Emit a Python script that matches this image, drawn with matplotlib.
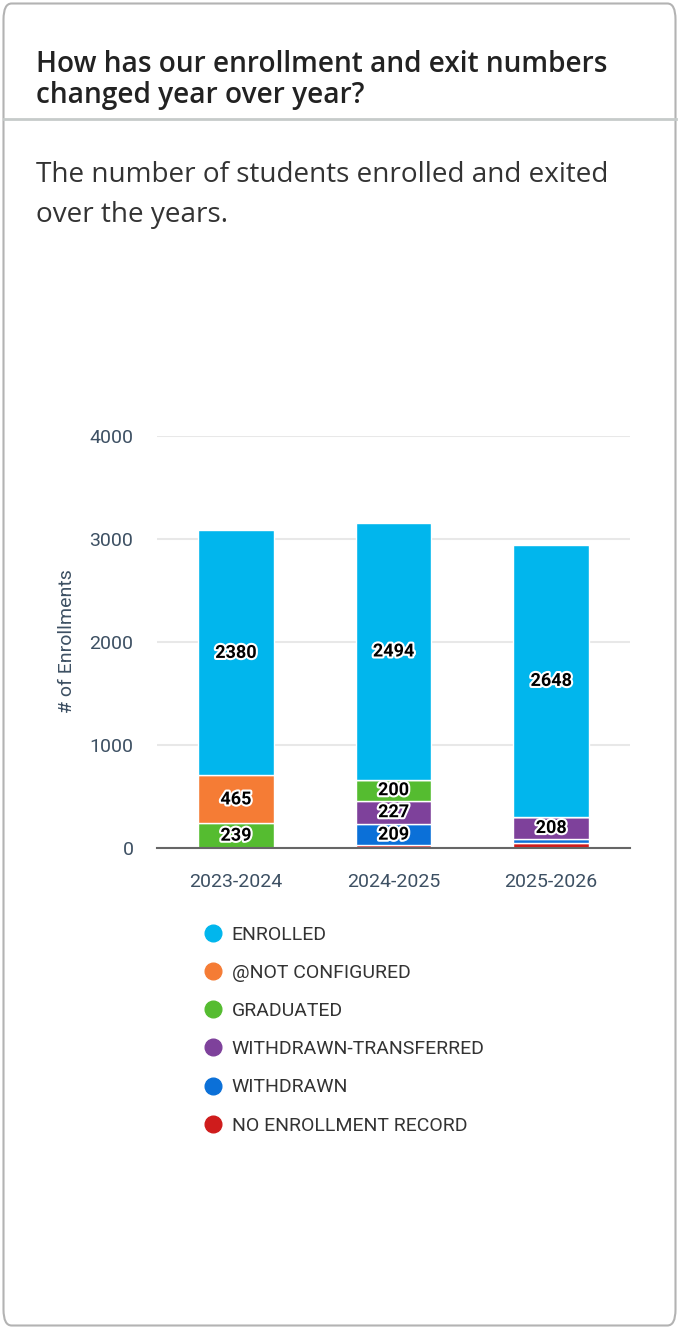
import matplotlib.pyplot as plt
import matplotlib.patheffects as pe
from matplotlib.lines import Line2D
from matplotlib.patches import FancyBboxPatch

# Enrollment and exit counts per school year
years = ["2023-2024", "2024-2025", "2025-2026"]
no_enrollment_record = [0, 25, 46]
withdrawn = [0, 209, 44]
withdrawn_transferred = [0, 227, 208]
graduated = [239, 200, 0]
not_configured = [465, 0, 0]
enrolled = [2380, 2494, 2648]

# bottom-to-top stacking order
series = [
    ("NO ENROLLMENT RECORD", no_enrollment_record, "#cf1c1c"),
    ("WITHDRAWN", withdrawn, "#0b70d8"),
    ("WITHDRAWN-TRANSFERRED", withdrawn_transferred, "#7e419b"),
    ("GRADUATED", graduated, "#55bc30"),
    ("@NOT CONFIGURED", not_configured, "#f57c35"),
    ("ENROLLED", enrolled, "#01b6ed"),
]

W, H = 679, 1330
fig = plt.figure(figsize=(W / 100, H / 100), dpi=100)
fig.patch.set_facecolor("white")

# card frame and header divider
card = FancyBboxPatch((3.5 / W, 4.5 / H), 672 / W, 1322 / H,
                      boxstyle="round,pad=0,rounding_size=0.012",
                      transform=fig.transFigure, facecolor="none",
                      edgecolor="#b3b3b3", linewidth=1.5, zorder=-1)
fig.patches.append(card)
fig.add_artist(Line2D([3.5 / W, 675.5 / W], [1 - 119 / H, 1 - 119 / H],
                      transform=fig.transFigure, color="#c6cbca", lw=2))

title_font = dict(family=["Open Sans", "DejaVu Sans"], color="#222222")
fig.text(36 / W, 1 - 72 / H, "How has our enrollment and exit numbers",
         fontsize=20.2, fontweight="semibold", va="baseline", **title_font)
fig.text(36 / W, 1 - 103 / H, "changed year over year?",
         fontsize=20.2, fontweight="semibold", va="baseline", **title_font)
fig.text(36 / W, 1 - 182 / H, "The number of students enrolled and exited",
         fontsize=20.1, va="baseline", family=["Open Sans", "DejaVu Sans"],
         color="#333333")
fig.text(36 / W, 1 - 222 / H, "over the years.",
         fontsize=20.1, va="baseline", family=["Open Sans", "DejaVu Sans"],
         color="#333333")

ax = fig.add_axes([157 / W, 1 - 848 / H, 473 / W, 412 / H])
x = range(len(years))
bottom = [0] * len(years)
outline = [pe.withStroke(linewidth=3, foreground="white")]
for name, vals, color in series:
    bars = ax.bar(x, vals, width=0.48, bottom=bottom, color=color,
                  edgecolor="white", linewidth=1, label=name, zorder=3)
    labels = [str(v) if v >= 150 else "" for v in vals]
    ax.bar_label(bars, labels=labels, label_type="center", fontsize=13,
                 fontweight="bold", family="Roboto", color="black",
                 path_effects=outline, zorder=5)
    bottom = [b + v for b, v in zip(bottom, vals)]

slate = "#3d5063"
ax.set_xlim(-0.5, 2.5)
ax.set_ylim(0, 4000)
ax.set_yticks([0, 1000, 2000, 3000, 4000])
ax.set_xticks(list(x))
ax.set_xticklabels(years)
ax.tick_params(axis="both", length=0, labelsize=14, labelcolor=slate)
ax.tick_params(axis="x", pad=18)
ax.tick_params(axis="y", pad=17)
for lbl in ax.get_xticklabels() + ax.get_yticklabels():
    lbl.set_family("Roboto")
ax.grid(axis="y", color="#e8e8e8", linewidth=1.5, zorder=0)
for side in ["top", "right", "left"]:
    ax.spines[side].set_visible(False)
ax.spines["bottom"].set_color("#666666")
ax.spines["bottom"].set_linewidth(1.5)
ax.spines["bottom"].set_zorder(4)

fig.text(67 / W, 1 - 641 / H, "# of Enrollments", rotation=90,
         ha="center", va="center", fontsize=14, family="Roboto", color=slate)

handles = [Line2D([], [], marker="o", linestyle="none", markersize=12,
                  markerfacecolor=c, markeredgecolor=c, label=n)
           for n, _, c in reversed(series)]
fig.legend(handles=handles, loc="upper left",
           bbox_to_anchor=(203 / W, 1 - 925.5 / H), frameon=False,
           borderpad=0, borderaxespad=0, handlelength=1.0,
           handletextpad=0.48, labelspacing=1.04,
           prop={"family": "Roboto", "size": 14}, labelcolor="#333333")

fig.savefig("out.png", dpi=100, facecolor="white")
